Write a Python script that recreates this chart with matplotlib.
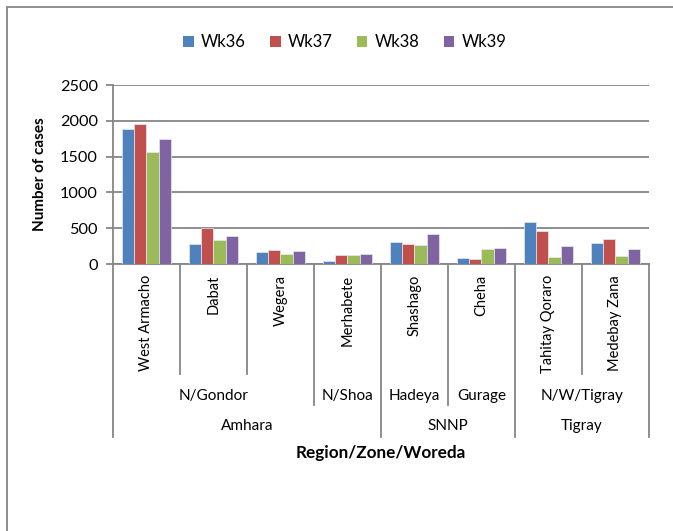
import numpy as np
import matplotlib
matplotlib.use("Agg")
import matplotlib.pyplot as plt
from matplotlib.patches import Patch, Rectangle
from matplotlib.transforms import blended_transform_factory

plt.rcParams['font.family'] = ['Lato', 'DejaVu Sans']

# Data
woredas = ["West Armacho", "Dabat", "Wegera", "Merhabete",
           "Shashago", "Cheha", "Tahitay Qoraro", "Medebay Zana"]
zones = ["N/Gondor", "N/Shoa", "Hadeya", "Gurage", "N/W/Tigray"]
zone_spans = [(0, 2), (3, 3), (4, 4), (5, 5), (6, 7)]
regions = ["Amhara", "SNNP", "Tigray"]
region_spans = [(0, 3), (4, 5), (6, 7)]
weeks = ["Wk36", "Wk37", "Wk38", "Wk39"]
wk36 = [1880, 280, 170, 35, 310, 85, 580, 295]
wk37 = [1950, 500, 190, 120, 275, 75, 460, 345]
wk38 = [1560, 330, 140, 125, 265, 205, 95, 110]
wk39 = [1750, 390, 180, 145, 425, 225, 250, 210]
series = [wk36, wk37, wk38, wk39]
colors = ["#4F81BD", "#C0504D", "#9BBB59", "#8064A2"]
yticks = [0, 500, 1000, 1500, 2000, 2500]

W, H = 673, 531
fig = plt.figure(figsize=(W / 100, H / 100), dpi=100)
gray = "#868686"
fs_cat = 11
fs_num = 11.7

def fy(py):
    return 1 - py / H

ax = fig.add_axes([113 / W, fy(264), (649 - 113) / W, (264 - 85) / H])

x = np.arange(len(woredas))
bw = 0.18
for i, (vals, c) in enumerate(zip(series, colors)):
    ax.bar(x + (i - 1.5) * bw, vals, width=bw, color=c,
           edgecolor="#e8e8f0", linewidth=0.5, zorder=3, label=weeks[i])

ax.set_xlim(-0.5, len(woredas) - 0.5)
ax.set_ylim(0, 2500)
ax.set_yticks(yticks)
ax.set_yticklabels([str(v) for v in yticks], fontsize=fs_num)
ax.yaxis.grid(True, color=gray, linewidth=1.3, zorder=0)
ax.set_xticks([])
for s in ["top", "right"]:
    ax.spines[s].set_visible(False)
for s in ["left", "bottom"]:
    ax.spines[s].set_color(gray)
    ax.spines[s].set_linewidth(1.3)
ax.tick_params(axis="y", length=5, width=1.3, color=gray, pad=6)

ax.set_ylabel("Number of cases", fontsize=11, fontweight="bold", labelpad=9)

# Multi-level category axis
tr = blended_transform_factory(ax.transData, fig.transFigure)
boundaries = np.arange(len(woredas) + 1) - 0.5
zone_edges = {s - 0.5 for s, e in zone_spans} | {e + 0.5 for s, e in zone_spans}
region_edges = {s - 0.5 for s, e in region_spans} | {e + 0.5 for s, e in region_spans}
for b in boundaries:
    if b in region_edges:
        end = 437
    elif b in zone_edges:
        end = 405
    else:
        end = 374
    ax.plot([b, b], [fy(264), fy(end)], transform=tr, color=gray,
            linewidth=1.3, clip_on=False)

for xi, name in zip(x, woredas):
    ax.text(xi, fy(275), name, transform=tr, rotation=90, ha="center",
            va="top", fontsize=10.5)
for name, (s, e) in zip(zones, zone_spans):
    ax.text((s + e) / 2, fy(396), name, transform=tr, ha="center",
            va="center", fontsize=fs_cat)
for name, (s, e) in zip(regions, region_spans):
    ax.text((s + e) / 2, fy(426), name, transform=tr, ha="center",
            va="center", fontsize=fs_cat)
ax.text(3.5, fy(453), "Region/Zone/Woreda", transform=tr, ha="center",
        va="center", fontsize=12.3, fontweight="bold")

handles = [Patch(facecolor=c, edgecolor="none") for c in colors]
fig.legend(handles, weeks, loc="center", bbox_to_anchor=(345 / W, fy(42)),
           ncol=4, frameon=False, fontsize=12, handlelength=0.62,
           handleheight=0.62, handletextpad=0.45, columnspacing=1.45)

# Chart area border
fig.patches.append(Rectangle((7 / W, -0.05), 1.2, fy(7) + 0.05,
                             transform=fig.transFigure, fill=False,
                             edgecolor=gray, linewidth=1.3))

fig.savefig("out.png", dpi=100)
